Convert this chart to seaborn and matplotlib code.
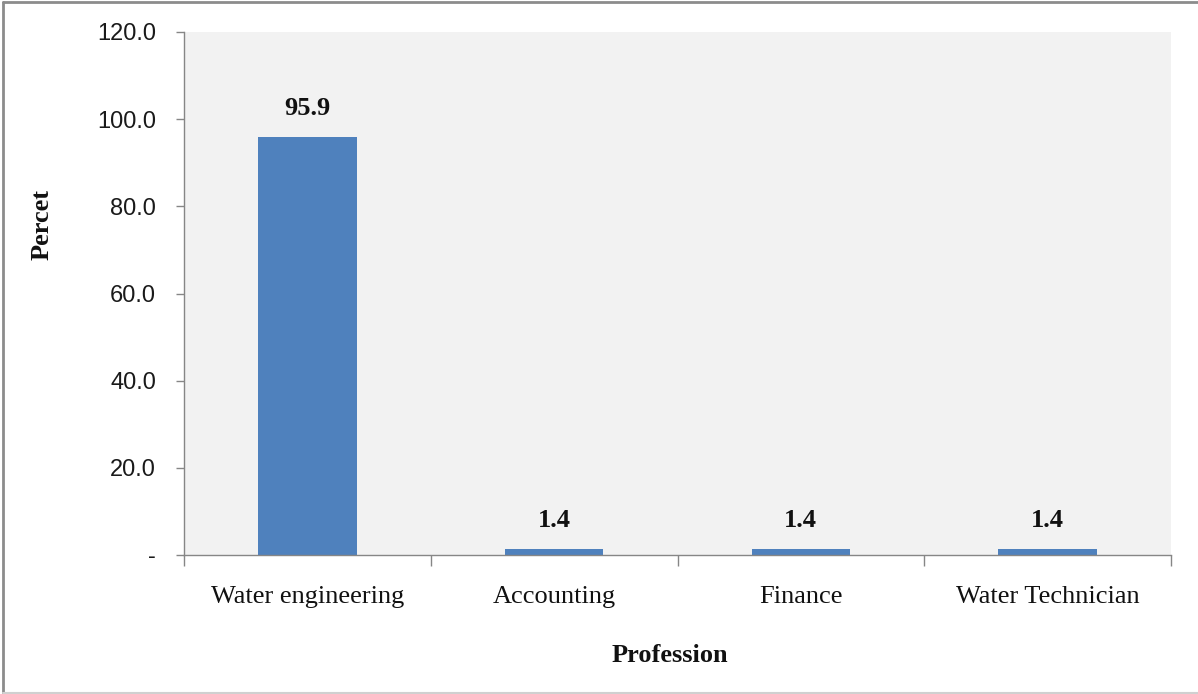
import matplotlib
matplotlib.use("Agg")
import matplotlib.pyplot as plt
from matplotlib.lines import Line2D
import seaborn as sns
import pandas as pd

# Share of respondents by profession
professions = ["Water engineering", "Accounting", "Finance", "Water Technician"]
percent = [95.9, 1.4, 1.4, 1.4]
y_ticks = [0, 20, 40, 60, 80, 100, 120]
y_tick_labels = ["-", "20.0", "40.0", "60.0", "80.0", "100.0", "120.0"]

df = pd.DataFrame({"Profession": professions, "Percent": percent})

sns.set_theme(style="white")
plt.rcParams["font.family"] = ["DejaVu Sans"]

W, H = 1198, 694
fig = plt.figure(figsize=(W / 100, H / 100), dpi=100)
fig.patch.set_facecolor("white")

left, right, top, bottom = 184, 1171, 32, 555
ax = fig.add_axes([left / W, 1 - bottom / H, (right - left) / W, (bottom - top) / H])
ax.set_facecolor("#F2F2F2")

sns.barplot(data=df, x="Profession", y="Percent", color="#4F81BD",
            width=0.4, saturation=1, ax=ax, edgecolor="none")

ax.set_xlim(-0.5, len(professions) - 0.5)
ax.set_ylim(0, 120)

# Y axis: sans labels, outward ticks
ax.set_yticks(y_ticks)
ax.set_yticklabels(y_tick_labels, fontfamily="Liberation Sans", fontsize=17, color="#1A1A1A")
ax.tick_params(axis="y", direction="out", length=6, width=1, color="#868686", pad=14, left=True)

# X axis: category labels in serif, tick marks at category boundaries
ax.set_xticks(range(len(professions)))
ax.set_xticklabels(professions, fontfamily="Liberation Serif", fontsize=19, color="#111111")
ax.tick_params(axis="x", which="major", length=0, pad=22)
ax.set_xticks([i - 0.5 for i in range(len(professions) + 1)], minor=True)
ax.tick_params(axis="x", which="minor", direction="out", length=8, width=1,
               color="#868686", bottom=True)

for side in ["top", "right"]:
    ax.spines[side].set_visible(False)
for side in ["left", "bottom"]:
    ax.spines[side].set_color("#868686")
    ax.spines[side].set_linewidth(1)

ax.set_xlabel("")
ax.set_ylabel("")

# Value labels above the bars
for i, v in enumerate(percent):
    ax.annotate(f"{v:.1f}", (i, v), xytext=(0, 12), textcoords="offset points",
                ha="center", va="bottom", fontfamily="Liberation Serif",
                fontweight="bold", fontsize=19, color="#111111")

# Axis titles
fig.text(42 / W, 1 - 224 / H, "Percet", rotation=90, ha="center", va="center",
         fontfamily="Liberation Serif", fontweight="bold", fontsize=19, color="#111111")
fig.text(670 / W, 1 - 655 / H, "Profession", ha="center", va="center",
         fontfamily="Liberation Serif", fontweight="bold", fontsize=19, color="#111111")

# Chart frame
fig.add_artist(Line2D([3 / W, 3 / W], [0, 1 - 2 / H], transform=fig.transFigure,
                      color="#8C8C8C", linewidth=2))
fig.add_artist(Line2D([3 / W, 1], [1 - 2 / H, 1 - 2 / H], transform=fig.transFigure,
                      color="#8C8C8C", linewidth=2))
fig.add_artist(Line2D([3 / W, 1], [1 - 692.5 / H, 1 - 692.5 / H], transform=fig.transFigure,
                      color="#D0D0D0", linewidth=1.5))

fig.savefig("out.png", dpi=100, facecolor=fig.get_facecolor())
